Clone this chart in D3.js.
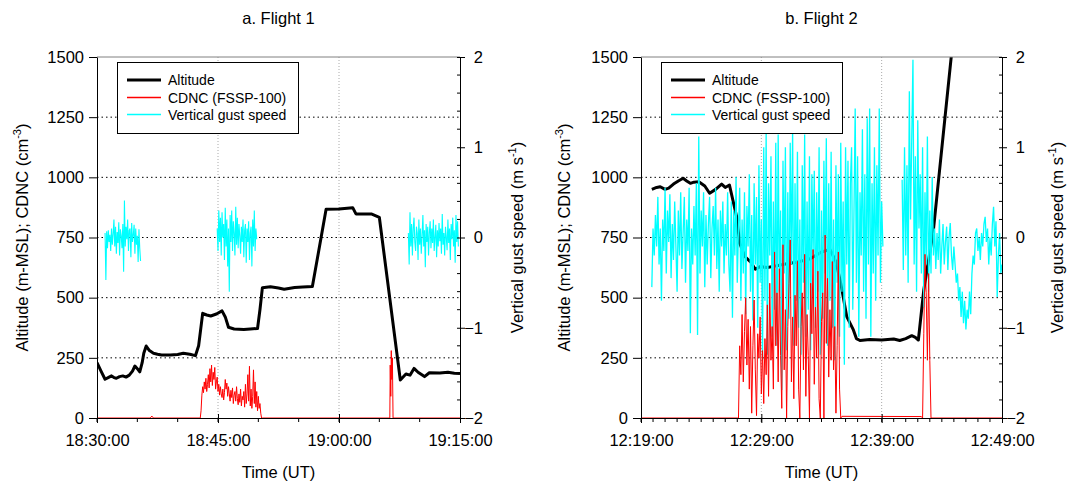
<!DOCTYPE html>
<html>
<head>
<meta charset="utf-8">
<script src="https://cdn.jsdelivr.net/npm/d3@7"></script>
<style>
body { margin: 0; background: #fff; }
text { font-family: "Liberation Sans", Arial, sans-serif; fill: #000; }
</style>
</head>
<body>
<div id="chart"></div>
<script>
// ---- data (minutes after the first tick) ----
var flight1Ticks = ["18:30:00", "18:45:00", "19:00:00", "19:15:00"];
var flight2Ticks = ["12:19:00", "12:29:00", "12:39:00", "12:49:00"];
var altTicks = [0, 250, 500, 750, 1000, 1250, 1500];
var gustTicks = [-2, -1, 0, 1, 2];
var sampleStep = 0.1; // minutes between samples in the gust / cloud arrays

// altitude, flight 1 [minute, m]
var alt1 = [[0,230],[0.5,195],[1.0,161],[1.5,170],[1.8,175],[2.1,168],[2.4,165],[2.8,172],[3.2,175],[3.6,170],
  [4.0,178],[4.4,195],[4.7,216],[5.0,205],[5.3,192],[5.6,230],[5.8,269],[6.1,299],[6.5,280],[7.0,269],[7.5,265],
  [8.0,262],[9.1,262],[10.0,264],[10.7,269],[11.5,265],[12.2,259],[12.6,300],[13.1,435],[13.6,428],[14.1,424],
  [14.8,432],[15.5,445],[15.9,420],[16.3,377],[17.0,370],[18.2,368],[19.0,370],[19.9,372],[20.2,450],[20.5,541],
  [21.5,545],[22.5,540],[23.2,535],[24.5,542],[25.5,544],[26.7,546],[28.4,867],[30,868],[31.7,874],[32.1,848],
  [34.0,848],[35.0,834],[37.6,158],[38.3,183],[38.8,178],[39.3,206],[39.8,190],[40.6,172],[41.2,188],[42.5,187],
  [43.5,190],[44.3,186],[45,185]];

// CDNC, flight 1
var cdnc1Before = [[0,0],[6.6,0],[6.8,8],[7.0,0],[12.7,0]];
var cdnc1CloudStart = 12.8;
var cdnc1Cloud = [0,30,95,130,105,150,120,165,110,140, 180,125,205,150,220,135,190,160,210,120,
  150,170,110,140,95,130,100,85,120,75, 105,160,120,145,90,130,100,70,115,85,
  125,60,95,110,70,130,80,55,100,65, 120,50,90,75,110,45,140,60,100,180,
  70,215,50,120,40,90,200,60,150,45, 110,30,90,40,60,20,0];
var cdnc1After = [[20.5,0],[36.3,0],[36.35,220],[36.42,90],[36.48,280],[36.55,160],[36.62,250],[36.7,0],[45,0]];

// vertical gust, flight 1 (three runs)
var gust1Starts = [1.0, 14.9, 38.6];
var gust1a = [0.05,-0.47,0.07,-0.12,0.08,-0.05,0.03,-0.15,0.1,-0.08,0.04,0.2,-0.1,0.12,-0.18,0.06,-0.06,0.17,-0.2,0.09,
  0.02,-0.12,0.15,-0.38,0.41,-0.1,0.12,-0.02,0.2,-0.15,0.08,0.1,-0.22,0.16,-0.05,0.03,0.14,-0.18,0.1,-0.08,
  0.02,-0.27,0.09,-0.12,-0.26];
var gust1b = [0.1,-0.15,0.3,-0.05,0.22,-0.2,0.28,0.0,0.15,-0.25,0.33,-0.1,0.2,-0.32,0.1,-0.6,0.25,-0.05,0.3,-0.15,
  0.18,0.05,-0.2,0.34,-0.08,0.22,-0.12,0.15,0.02,-0.18,0.12,-0.05,0.2,-0.22,0.08,0.15,-0.28,0.1,-0.05,0.18,
  -0.25,0.05,0.12,-0.32,0.2,-0.1,0.3,-0.15,0.1,-0.02];
var gust1c = [0.05,-0.3,0.28,-0.1,0.15,-0.2,0.1,0.22,-0.05,-0.15,0.12,0.05,-0.25,0.2,-0.08,0.1,-0.18,0.02,0.25,-0.1,
  0.08,-0.33,0.15,-0.05,0.12,-0.2,0.05,0.18,-0.12,0.1,-0.06,0.2,-0.15,0.0,0.14,-0.22,0.08,-0.1,0.16,-0.04,
  0.1,-0.18,0.26,-0.08,0.05,-0.2,0.12,0.0,-0.14,0.2,-0.06,0.1,-0.25,0.15,-0.02,0.22,-0.1,0.08,-0.28,0.25,
  -0.05,0.18,-0.1];

// altitude, flight 2
var alt2 = [[0.9,950],[1.3,958],[1.6,961],[2.0,950],[2.3,955],[2.7,972],[3.1,985],[3.5,996],[3.8,985],[4.1,975],
  [4.4,980],[4.8,982],[5.3,964],[5.7,934],[6.2,950],[6.7,972],[7.0,958],[7.35,968],[7.95,836],[8.2,726],
  [8.65,670],[9.1,649],[9.5,618],[9.9,629],[10.5,625],[11.0,630],[11.5,635],[12.0,640],[13.0,648],[14.0,660],
  [15.0,690],[15.7,700],[16.2,650],[16.6,560],[17.1,421],[17.65,366],[17.9,330],[18.2,322],[19.0,326],[20.0,324],
  [21.0,328],[21.5,322],[22.0,330],[22.5,342],[22.8,335],[23.05,324],[23.5,532],[24.3,781],[25.8,1510]];

// CDNC, flight 2
var cdnc2Before = [[0,0],[8.0,0]];
var cdnc2CloudStart = 8.1;
var cdnc2Cloud = [0,300,180,430,150,360,500,220,410,120, 380,20,300,490,200,10,350,250,420,100,
  280,60,330,180,470,90,560,240,380,120, 690,300,520,150,620,260,40,720,200,450,
  0,380,560,740,150,420,80,510,300,650, 120,0,380,520,200,680,90,430,260,0,
  560,350,700,140,460,250,610,80,0,400, 520,0,760,310,580,170,450,240,650,200,
  380,20,300,690,120,0];
var cdnc2After = [[16.7,7],[23.3,6],[23.4,0],[23.5,350],[23.6,680],[23.7,520],[23.8,240],[23.9,600],[24.0,240],[24.1,0],[30,0]];

// vertical gust, flight 2 (null = no data)
var gust2Start = 0.9;
var gust2 = [
  -0.55,0.1,-0.2,0.25,-0.1,0.45,-0.3,0.1,-0.7,0.2, -0.15,0.55,-0.4,0.3,-0.05,0.48,-0.45,0.15,-0.25,0.4,
  -0.1,-0.6,0.3,-0.2,0.5,-0.35,0.05,0.45,-0.5,0.2, -0.15,0.55,-1.06,0.1,-0.3,0.35,-0.2,0.6,-1.08,1.12,
  -0.4,0.3,-0.1,0.5,-0.55,0.25,-0.3,0.15,0.45,-0.45, 0.1,0.35,-0.2,0.55,-0.35,0.2,-0.6,0.3,-0.1,0.4,
  -0.4,0.15,-0.2,0.5,-0.3,
  -0.6,0.4,-0.89,0.3,-0.2,0.67,-0.5,0.1,0.55,-0.7, 0.2,-0.4,0.5,-0.85,0.35,-0.1,0.7,-0.6,0.25,-0.92,
  0.6,-0.3,0.45,-1.0,0.8,-0.5,0.2,-1.36,1.0,-0.7, 1.15,-1.3,0.6,-0.2,0.9,-1.1,0.4,-0.8,1.05,-1.2,
  1.14,-0.6,0.3,-1.69,0.85,-0.4,1.0,-1.25,0.5,-0.9, 1.05,-0.3,1.2,-1.2,0.6,-0.7,0.95,-1.0,0.2,-1.3,
  0.8,-0.5,1.14,-1.1,0.4,-0.8,0.9,-1.25,0.7,-0.2, 0.74,-1.0,0.5,-0.6,1.0,-1.3,0.3,-0.9,0.85,-0.4,
  1.1,-1.2,0.6,-0.7,0.95,-1.0,0.2,-1.36,0.8,-0.5, 0.7,-1.1,1.05,-0.6,0.4,-1.41,1.0,-0.3,0.85,-1.0,
  0.6,1.0,-0.8,0.3,1.43,-0.5,0.9,-1.1,0.5,-0.2, 1.2,-0.6,0.7,-0.9,1.32,-0.3,1.43,-1.1,0.6,-0.4,
  1.0,-0.7,0.8,-0.2,1.43,-0.5,0.4,-0.1,
  null,null,null,null,null,null,null,null,null,null,null,null,null,null,null,
  0.64,-0.36,1.0,-0.2,0.8,-0.5,1.62,0.2,1.1,1.97, -0.3,0.9,-0.6,1.3,0.1,0.7,-0.4,1.0,-0.77,0.5,
  -0.3,1.12,-0.6,0.3,-0.4,0.67,
  -0.2,0.1,-0.35,0.05,-0.25,0.2,-0.4,-0.1,0.15,-0.3, -0.05,0.12,-0.36,0.0,0.16,-0.2,-0.36,-0.1,-0.3,-0.5,
  -0.4,-0.7,-0.55,-0.88,-0.6,-0.95,-0.7,-1.02,-0.8,-0.9, -0.6,-0.85,-0.4,-0.2,-0.3,0.05,0.1,-0.15,0.0,-0.25,
  0.05,-0.1,0.15,0.23,-0.05,0.1,-0.3,0.0,-0.2,0.15, 0.34,-0.1,0.18,-0.66,-0.2,0.05,-0.4,-0.3];

// ---- helpers ----
var parseT = d3.timeParse("%H:%M:%S");
var fmtT = d3.timeFormat("%H:%M:%S");

function sampled(start, values) {
  return values.map(function (v, i) { return [start + i * sampleStep, v]; });
}

var panels = [
  {
    id: "p1", title: "a. Flight 1", left: 97, right: 460, ticks: flight1Ticks, minorMinutes: 5,
    alt: alt1,
    cdnc: cdnc1Before.concat(sampled(cdnc1CloudStart, cdnc1Cloud), cdnc1After),
    gust: [sampled(gust1Starts[0], gust1a), sampled(gust1Starts[1], gust1b), sampled(gust1Starts[2], gust1c)],
    gustWidth: 1.1,
    yLabelX: 22, y2LabelX: 517
  },
  {
    id: "p2", title: "b. Flight 2", left: 641, right: 1002, ticks: flight2Ticks, minorMinutes: 1,
    alt: alt2,
    cdnc: cdnc2Before.concat(sampled(cdnc2CloudStart, cdnc2Cloud), cdnc2After),
    gust: [sampled(gust2Start, gust2)],
    gustWidth: 1.3,
    yLabelX: 564, y2LabelX: 1057
  }
];

var plotTop = 57, plotBottom = 418;

var svg = d3.select("#chart")
  .append("svg")
    .attr("width", 1067)
    .attr("height", 483);

panels.forEach(drawPanel);

function drawPanel(p) {
  var t0 = parseT(p.ticks[0]),
      t1 = parseT(p.ticks[p.ticks.length - 1]);
  var x = d3.scaleTime().domain([t0, t1]).range([p.left, p.right]);
  var y = d3.scaleLinear().domain([0, 1500]).range([plotBottom, plotTop]);
  var y2 = d3.scaleLinear().domain([-2, 2]).range([plotBottom, plotTop]);
  var X = function (m) { return x(new Date(t0.getTime() + m * 60000)); };

  var g = svg.append("g");

  g.append("clipPath").attr("id", "clip-" + p.id)
    .append("rect")
      .attr("x", p.left).attr("y", plotTop)
      .attr("width", p.right - p.left).attr("height", plotBottom - plotTop);

  // grid
  g.selectAll(".vgrid")
    .data(p.ticks.slice(1, -1).map(parseT))
    .join("line")
      .attr("x1", function (d) { return x(d); })
      .attr("x2", function (d) { return x(d); })
      .attr("y1", plotTop).attr("y2", plotBottom)
      .attr("stroke", "#aaa")
      .attr("stroke-dasharray", "1,2");
  g.selectAll(".hgrid")
    .data(altTicks.slice(1, -1))
    .join("line")
      .attr("x1", p.left).attr("x2", p.right)
      .attr("y1", function (d) { return y(d); })
      .attr("y2", function (d) { return y(d); })
      .attr("stroke", "#000")
      .attr("stroke-dasharray", "1.5,3");

  var plot = g.append("g").attr("clip-path", "url(#clip-" + p.id + ")");

  plot.append("path")
    .datum(p.alt)
    .attr("d", d3.line().x(function (d) { return X(d[0]); }).y(function (d) { return y(d[1]); }))
    .attr("fill", "none")
    .attr("stroke", "#000")
    .attr("stroke-width", 3)
    .attr("stroke-linejoin", "round");

  var gustLine = d3.line()
    .defined(function (d) { return d[1] != null; })
    .x(function (d) { return X(d[0]); })
    .y(function (d) { return y2(d[1]); });
  plot.selectAll(".gust")
    .data(p.gust)
    .join("path")
      .attr("d", gustLine)
      .attr("fill", "none")
      .attr("stroke", "#00ffff")
      .attr("stroke-width", p.gustWidth);

  plot.append("path")
    .datum(p.cdnc)
    .attr("d", d3.line().x(function (d) { return X(d[0]); }).y(function (d) { return y(d[1]); }))
    .attr("fill", "none")
    .attr("stroke", "#ff0000")
    .attr("stroke-width", 1);

  // frame top
  g.append("line")
    .attr("x1", p.left).attr("x2", p.right)
    .attr("y1", plotTop).attr("y2", plotTop)
    .attr("stroke", "#808080");

  // left axis
  var ax = g.append("g")
    .attr("transform", "translate(" + p.left + ",0)")
    .call(d3.axisLeft(y).tickValues(altTicks).tickFormat(d3.format("d")).tickSize(8).tickSizeOuter(0).tickPadding(5));
  ax.attr("font-size", null).attr("font-family", null);
  ax.selectAll("text").style("font-size", "16.5px");

  // right axis
  var ar = g.append("g")
    .attr("transform", "translate(" + p.right + ",0)")
    .call(d3.axisRight(y2).tickValues(gustTicks).tickSize(5).tickSizeOuter(0).tickFormat(d3.format("d")));
  ar.attr("font-size", null).attr("font-family", null);
  ar.selectAll("text").style("font-size", "16.5px").attr("text-anchor", "end").attr("x", 23);
  ar.selectAll(".tick line").attr("x1", -3);
  g.selectAll(".minor2")
    .data(d3.range(-9, 10).map(function (k) { return k / 5; }).filter(function (v) { return Math.abs(v - Math.round(v)) > 0.01; }))
    .join("line")
      .attr("x1", p.right - 3).attr("x2", p.right)
      .attr("y1", function (d) { return y2(d); })
      .attr("y2", function (d) { return y2(d); })
      .attr("stroke", "#000");

  // bottom axis
  var ab = g.append("g")
    .attr("transform", "translate(0," + plotBottom + ")")
    .call(d3.axisBottom(x).tickValues(p.ticks.map(parseT)).tickFormat(fmtT).tickSize(5).tickSizeOuter(0).tickPadding(11));
  ab.attr("font-size", null).attr("font-family", null);
  ab.selectAll("text").style("font-size", "16.5px");
  ab.selectAll(".tick line").attr("y1", -4);
  ab.selectAll(".minor")
    .data(d3.timeMinute.every(p.minorMinutes).range(t0, t1))
    .join("line")
      .attr("x1", function (d) { return x(d); })
      .attr("x2", function (d) { return x(d); })
      .attr("y1", 0).attr("y2", 4)
      .attr("stroke", "#000");

  // titles and labels
  var cx = (p.left + p.right) / 2;
  g.append("text")
    .attr("x", cx).attr("y", 24)
    .attr("text-anchor", "middle")
    .style("font-size", "16.5px")
    .text(p.title);
  g.append("text")
    .attr("x", cx).attr("y", 478)
    .attr("text-anchor", "middle")
    .style("font-size", "16.5px")
    .text("Time (UT)");

  var yl = g.append("text")
    .attr("transform", "translate(" + (p.yLabelX + 6) + "," + ((plotTop + plotBottom) / 2) + ") rotate(-90)")
    .attr("text-anchor", "middle")
    .style("font-size", "16.5px");
  yl.append("tspan").text("Altitude (m-MSL); CDNC (cm");
  yl.append("tspan").attr("dy", -7).style("font-size", "11px").text("-3");
  yl.append("tspan").attr("dy", 7).text(")");

  var yr = g.append("text")
    .attr("transform", "translate(" + (p.y2LabelX + 6) + "," + ((plotTop + plotBottom) / 2) + ") rotate(-90)")
    .attr("text-anchor", "middle")
    .style("font-size", "16.5px");
  yr.append("tspan").text("Vertical gust speed (m s");
  yr.append("tspan").attr("dy", -7).style("font-size", "11px").text("-1");
  yr.append("tspan").attr("dy", 7).text(")");

  // legend
  var lx = p.left + 20, ly = 62;
  var lg = g.append("g");
  lg.append("rect")
    .attr("x", lx + 0.5).attr("y", ly + 0.5)
    .attr("width", 181).attr("height", 71)
    .attr("fill", "#fff")
    .attr("stroke", "#000");
  var items = [
    { label: "Altitude", color: "#000000", h: 3, dy: 18 },
    { label: "CDNC (FSSP-100)", color: "#ff0000", h: 1.5, dy: 35.5 },
    { label: "Vertical gust speed", color: "#00ffff", h: 1.5, dy: 52.5 }
  ];
  items.forEach(function (it) {
    var yy = ly + it.dy;
    lg.append("rect")
      .attr("x", lx + 10).attr("width", 34)
      .attr("y", yy - it.h / 2).attr("height", it.h)
      .attr("fill", it.color);
    lg.append("text")
      .attr("x", lx + 51).attr("y", Math.round(yy) + 5)
      .style("font-size", "14px")
      .text(it.label);
  });
}
</script>
</body>
</html>
